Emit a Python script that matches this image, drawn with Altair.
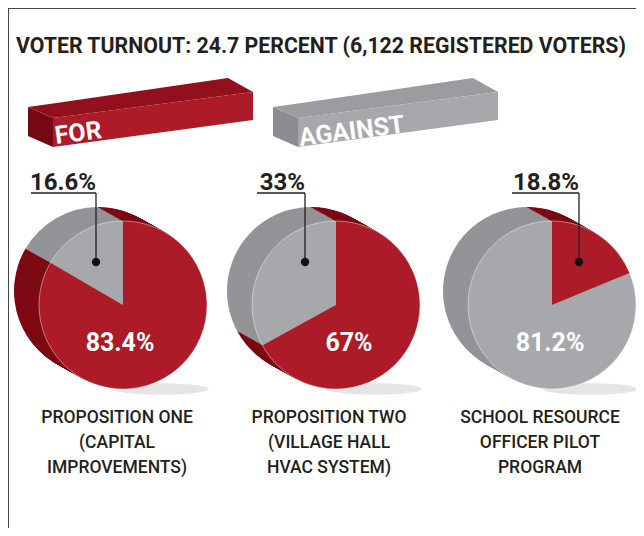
import altair as alt
import pandas as pd
import math

# ---------------- data ----------------
title_text = "VOTER TURNOUT: 24.7 PERCENT (6,122 REGISTERED VOTERS)"
legend_labels = ["FOR", "AGAINST"]
categories = [
    "PROPOSITION ONE\n(CAPITAL\nIMPROVEMENTS)",
    "PROPOSITION TWO\n(VILLAGE HALL\nHVAC SYSTEM)",
    "SCHOOL RESOURCE\nOFFICER PILOT\nPROGRAM",
]
for_pct = [83.4, 67.0, 18.8]
against_pct = [16.6, 33.0, 81.2]

# ---------------- layout / style ----------------
OFF = 8  # page margin
FONT = "Roboto, Liberation Sans, sans-serif"
RED, RED_SIDE = "#ad1a28", "#7d0a14"
GRAY, GRAY_SIDE = "#a6a8ab", "#939497"
DARK = "#231f20"
centers_x = [123, 336, 552]
CY = 305
R = 84
DEPTH_DX, DEPTH_DY, NSTEP = -25, -14, 26
leader_x = [96, 305, 579]
underline_w = [65, 48, 67]
LEADER_Y, DOT_Y = 193, 262
inner_dx = [-3, 13, -2]
cat_dx = [-6, -7, -12]

def P(v):
    return v - OFF

# ---------------- shadows ----------------
ELLIPSE = "M-1,0A1,0.12,0,1,1,1,0A1,0.12,0,1,1,-1,0Z"
shadow_df = pd.DataFrame(dict(x=[P(c + 38) for c in centers_x], y=[P(389)] * 3))
shadows = alt.Chart(shadow_df).mark_point(
    shape=ELLIPSE, filled=True, size=9000, color="#dedede", opacity=0.8, strokeWidth=0
).encode(x=alt.X("x:Q", scale=None), y=alt.Y("y:Q", scale=None))

# ---------------- pies ----------------
rows = []
k = 0
for i in range(3):
    for d in range(NSTEP, -1, -1):
        cx = centers_x[i] + DEPTH_DX * d / NSTEP
        cy = CY + DEPTH_DY * d / NSTEP
        side = d > 0
        rows.append(dict(cx=P(cx), cy=P(cy), start=0, end=for_pct[i],
                         col=RED_SIDE if side else RED, ord=k)); k += 1
        rows.append(dict(cx=P(cx), cy=P(cy), start=for_pct[i], end=100,
                         col=GRAY_SIDE if side else GRAY, ord=k)); k += 1
pie_df = pd.DataFrame(rows)

theta_scale = alt.Scale(domain=[0, 100], range=[0, 2 * math.pi])
pies = alt.Chart(pie_df).mark_arc(radius=R).encode(
    x=alt.X("cx:Q", scale=None, axis=None),
    y=alt.Y("cy:Q", scale=None, axis=None),
    theta=alt.Theta("start:Q", scale=theta_scale),
    theta2="end:Q",
    color=alt.Color("col:N", scale=None),
    order=alt.Order("ord:Q"),
)

rim_df = pd.DataFrame(dict(cx=[P(c) for c in centers_x], cy=[P(CY)] * 3, s=[0] * 3, e=[100] * 3))
rims = alt.Chart(rim_df).mark_arc(radius=R, filled=False, stroke="#ffffff",
                                  strokeOpacity=0.55, strokeWidth=0.8).encode(
    x=alt.X("cx:Q", scale=None), y=alt.Y("cy:Q", scale=None),
    theta=alt.Theta("s:Q", scale=theta_scale), theta2="e:Q")

# ---------------- leaders & labels ----------------
small_vals = [min(a, b) for a, b in zip(for_pct, against_pct)]
big_vals = [max(a, b) for a, b in zip(for_pct, against_pct)]
fmt = lambda v: f"{v:g}%"
lead_df = pd.DataFrame(dict(
    lx=[P(x) for x in leader_x],
    lx0=[P(x - w) for x, w in zip(leader_x, underline_w)],
    ly=[P(LEADER_Y)] * 3,
    dy=[P(DOT_Y)] * 3,
    label=[fmt(v) for v in small_vals],
    tx=[P(x) for x in leader_x],
))
hline = alt.Chart(lead_df).mark_rule(color=DARK, strokeWidth=1.3).encode(
    x=alt.X("lx0:Q", scale=None), x2="lx:Q", y=alt.Y("ly:Q", scale=None))
vline = alt.Chart(lead_df).mark_rule(color=DARK, strokeWidth=1.3).encode(
    x=alt.X("lx:Q", scale=None), y=alt.Y("ly:Q", scale=None), y2="dy:Q")
dots = alt.Chart(lead_df).mark_circle(color="#111", opacity=1, size=70).encode(
    x=alt.X("lx:Q", scale=None), y=alt.Y("dy:Q", scale=None))
small_txt = alt.Chart(lead_df).mark_text(
    font=FONT, fontSize=24, fontWeight="bold", color=DARK, align="right", baseline="alphabetic"
).encode(x=alt.X("tx:Q", scale=None), y=alt.value(P(LEADER_Y - 3)), text="label:N")

inner_df = pd.DataFrame(dict(
    x=[P(c + d) for c, d in zip(centers_x, inner_dx)],
    label=[fmt(v) for v in big_vals],
))
inner_txt = alt.Chart(inner_df).mark_text(
    font=FONT, fontSize=25, fontWeight="bold", color="white", align="center", baseline="middle"
).encode(x=alt.X("x:Q", scale=None), y=alt.value(P(343)), text="label:N")

cat_df = pd.DataFrame(dict(
    x=[P(c + d) for c, d in zip(centers_x, cat_dx)],
    label=categories,
))
cat_txt = alt.Chart(cat_df).mark_text(
    font=FONT, fontSize=17.5, fontWeight=500, color=DARK, align="center", baseline="middle",
    lineBreak="\n", lineHeight=25
).encode(x=alt.X("x:Q", scale=None), y=alt.value(P(418)), text="label:N")

# ---------------- title ----------------
title_df = pd.DataFrame(dict(t=[title_text]))
title = alt.Chart(title_df).mark_text(
    font=FONT, fontSize=21.3, fontWeight="bold", color=DARK, align="left", baseline="alphabetic"
).encode(x=alt.value(P(16)), y=alt.value(P(53)), text="t:N")

# ---------------- legend 3D bars ----------------
leg_rows = []
def face(fid, col, pts):
    for (x, yt, yb) in pts:
        leg_rows.append(dict(face=fid, col=col, x=P(x), y=P(yt), y2=P(yb)))

for j, (front, top, end) in enumerate([(RED, "#92101d", "#760812"),
                                        (GRAY, "#9a9c9f", "#8a8c8f")]):
    s = 245 * j
    face(f"end{j}", end, [(28 + s, 107, 136), (53 + s, 118, 147)])
    face(f"top{j}", top, [(28 + s, 107, 107), (53 + s, 103.4, 118),
                          (228 + s, 78, 95.2), (253 + s, 92, 92)])
    face(f"front{j}", front, [(53 + s, 118, 147), (253 + s, 92, 120)])
leg_df = pd.DataFrame(leg_rows)
legend_bars = alt.Chart(leg_df).mark_area(interpolate="linear").encode(
    x=alt.X("x:Q", scale=None), y=alt.Y("y:Q", scale=None), y2="y2:Q",
    color=alt.Color("col:N", scale=None), detail="face:N")

leg_txt_df = pd.DataFrame(dict(label=legend_labels, x=[P(56), P(300)], y=[P(144), P(146)]))
legend_txt = alt.Chart(leg_txt_df).mark_text(
    font=FONT, fontSize=25, fontWeight="bold", color="white", align="left",
    baseline="alphabetic", angle=352.5
).encode(x=alt.X("x:Q", scale=None), y=alt.Y("y:Q", scale=None), text="label:N")

# ---------------- border ----------------
border = alt.Chart(pd.DataFrame(dict(a=[0]))).mark_rule(color="#444", strokeWidth=2)
border_top = border.encode(x=alt.value(0), x2=alt.value(640), y=alt.value(0))
border_left = border.encode(x=alt.value(0), y=alt.value(0), y2=alt.value(530))

chart = alt.layer(
    border_top, border_left, title, legend_bars, legend_txt, shadows, pies, rims,
    hline, vline, dots, small_txt, inner_txt, cat_txt
).properties(width=628, height=520, padding=0, autosize="none").configure_view(stroke=None)

chart.save("out.html", embed_options={"renderer": "svg", "actions": False})
